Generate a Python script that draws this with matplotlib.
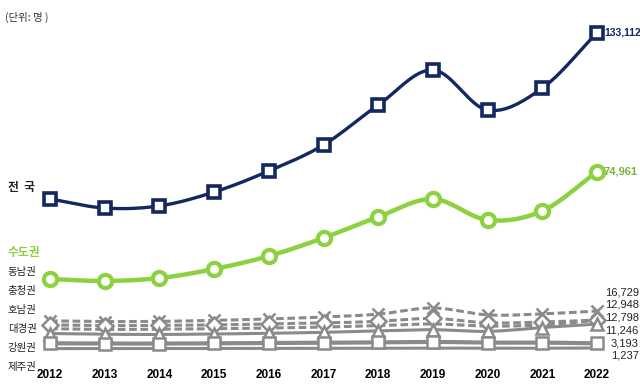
import numpy as np
import matplotlib.pyplot as plt

plt.rcParams['font.family'] = ['Noto Sans CJK KR', 'DejaVu Sans']

years = [2012, 2013, 2014, 2015, 2016, 2017, 2018, 2019, 2020, 2021, 2022]

# 인원 (명)
total = [63600, 59800, 60700, 66500, 75300, 86200, 102900, 117600, 100800, 110000, 133112]
capital = [30100, 29300, 30500, 34300, 39700, 47300, 56100, 63600, 54800, 58600, 74961]
dongnam = [12600, 12300, 12400, 12800, 13400, 14200, 15400, 18000, 15100, 15500, 16729]
chungcheong = [10900, 10600, 10700, 10900, 11300, 11700, 12400, 13600, 11800, 12100, 12948]
honam = [9300, 9000, 9100, 9300, 9600, 10000, 10600, 11300, 10400, 10900, 12798]
daegyeong = [7300, 7000, 6900, 7100, 7400, 7800, 8400, 8900, 8200, 9800, 11246]
gangwon = [3200, 3100, 3100, 3200, 3300, 3400, 3600, 3800, 3500, 3500, 3193]
jeju = [1000, 1000, 1000, 1050, 1100, 1100, 1150, 1200, 1150, 1150, 1237]

left_labels = ['동남권', '충청권', '호남권', '대경권', '강원권', '제주권']
right_labels = ['16,729', '12,948', '12,798', '11,246', '3,193', '1,237']


def smooth(x, y, n=20):
    # Catmull-Rom curve through the points (like Excel's smoothed line)
    x = np.asarray(x, float)
    y = np.asarray(y, float)
    px = np.concatenate([[2 * x[0] - x[1]], x, [2 * x[-1] - x[-2]]])
    py = np.concatenate([[2 * y[0] - y[1]], y, [2 * y[-1] - y[-2]]])
    xs, ys = [], []
    t = np.linspace(0, 1, n, endpoint=False)
    for i in range(1, len(px) - 2):
        for p, out in ((px, xs), (py, ys)):
            p0, p1, p2, p3 = p[i - 1], p[i], p[i + 1], p[i + 2]
            out.extend(0.5 * (2 * p1 + (-p0 + p2) * t
                              + (2 * p0 - 5 * p1 + 4 * p2 - p3) * t ** 2
                              + (-p0 + 3 * p1 - 3 * p2 + p3) * t ** 3))
    xs.append(x[-1])
    ys.append(y[-1])
    return np.array(xs), np.array(ys)


fig = plt.figure(figsize=(6.4, 3.86), dpi=100)
ax = fig.add_axes([0, 0.055, 1, 0.945])
ax.set_xlim(2011.086, 2022.786)
ax.set_ylim(-5774, 146858)

navy = '#13285e'
green = '#8cd140'
gray = '#8a8a8a'

regions = [
    (dongnam, '--', 'x', 2.2),
    (chungcheong, '--', 'D', 2.2),
    (honam, '--', None, 2.2),
    (daegyeong, '-', '^', 2.2),
    (gangwon, '-', 's', 3.0),
    (jeju, '-', None, 2.2),
]
for vals, ls, mk, lw in regions:
    sx, sy = smooth(years, vals)
    ax.plot(sx, sy, color=gray, lw=lw, ls=ls, dashes=(2.5, 1.2) if ls == '--' else (None, None), zorder=2)
    if mk:
        ax.plot(years, vals, ls='none', marker=mk, ms=9 if mk == 's' else 8,
                mfc='white' if mk != 'x' else gray, mec=gray, mew=1.8, zorder=3)

sx, sy = smooth(years, capital)
ax.plot(sx, sy, color=green, lw=3.2, zorder=4)
ax.plot(years, capital, ls='none', marker='o', ms=9.5, mfc='white', mec=green, mew=3, zorder=5)

sx, sy = smooth(years, total)
ax.plot(sx, sy, color=navy, lw=2.4, zorder=4)
ax.plot(years, total, ls='none', marker='s', ms=9, mfc='white', mec=navy, mew=2.6, zorder=5)

narrow = ['Liberation Sans', 'DejaVu Sans']

for s in ax.spines.values():
    s.set_visible(False)
ax.set_yticks([])
ax.set_xticks(years)
ax.set_xticklabels([str(y) for y in years], fontsize=8.5, fontweight='bold', family=narrow)
ax.tick_params(axis='x', length=0, pad=3)

# labels
fig.text(0.008, 0.955, '(단위: 명 )', fontsize=7.5, color='#333333', va='center')
fig.text(0.012, 0.513, '전  국', fontsize=8.5, fontweight='bold', color='#222222', va='center')
fig.text(0.012, 0.345, '수도권', fontsize=8.5, fontweight='bold', color=green, va='center')
for i, lab in enumerate(left_labels):
    fig.text(0.012, 0.295 - i * 0.049, lab, fontsize=7.5, color='#222222', va='center')

ax.annotate('133,112', (years[-1], total[-1]), xytext=(5, 0), textcoords='offset points',
            fontsize=7.5, fontweight='bold', color=navy, va='center', family=narrow)
ax.annotate('74,961', (years[-1], capital[-1]), xytext=(5, 0), textcoords='offset points',
            fontsize=8, fontweight='bold', color='#78b33a', va='center', family=narrow)
for i, lab in enumerate(right_labels):
    fig.text(0.998, 0.243 - i * 0.033, lab, fontsize=8, color='#222222', ha='right',
             va='center', family=narrow)

fig.savefig('out.png', dpi=100)
